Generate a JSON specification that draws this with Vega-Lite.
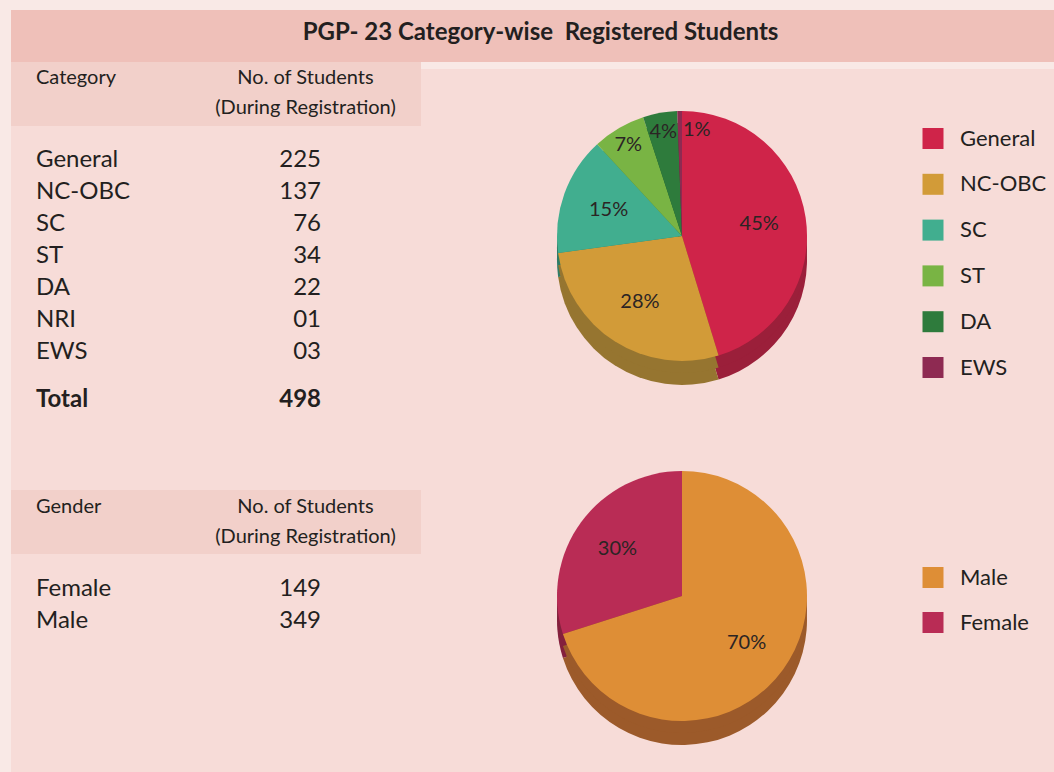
{
  "$schema": "https://vega.github.io/schema/vega-lite/v6.json",
  "background": "#f9e9e6",
  "padding": {"left": 11, "top": 10, "right": 0, "bottom": 0},
  "config": {
    "view": {"stroke": null},
    "concat": {"spacing": 0},
    "font": "Lato",
    "text": {"font": "Lato", "color": "#231f20"}
  },
  "datasets": {
    "category": [
      {"category": "General", "students": 225, "share": "45%"},
      {"category": "NC-OBC", "students": 137, "share": "28%"},
      {"category": "SC", "students": 76, "share": "15%"},
      {"category": "ST", "students": 34, "share": "7%"},
      {"category": "DA", "students": 22, "share": "4%"},
      {"category": "NRI", "students": 1, "share": ""},
      {"category": "EWS", "students": 3, "share": "1%"},
      {"category": "Total", "students": 498, "share": ""}
    ],
    "gender": [
      {"gender": "Female", "students": 149, "share": "30%"},
      {"gender": "Male", "students": 349, "share": "70%"}
    ]
  },
  "spacing": 0,
  "resolve": {"scale": {"color": "independent", "fill": "independent"}},
  "vconcat": [
    {
      "width": 1043,
      "height": 52,
      "view": {"fill": "#efc0b9", "stroke": null},
      "data": {"values": [{"title": "PGP- 23 Category-wise\u00a0 Registered Students"}]},
      "mark": {"type": "text", "fontSize": 24, "fontWeight": "bold", "dx": 8, "dy": -3, "color": "#231f20"},
      "encoding": {"text": {"field": "title", "type": "nominal"}}
    },
    {
      "spacing": 0,
      "resolve": {"scale": {"color": "independent", "fill": "independent"}},
      "hconcat": [
        {
          "spacing": 0,
          "bounds": "flush",
          "vconcat": [
            {
              "width": 410,
              "height": 64,
              "view": {"fill": "#f2d0ca", "stroke": null},
              "data": {"values": [{"col1": "Category", "col2": "No. of Students\n(During Registration)"}]},
              "layer": [
                {
                  "mark": {"type": "text", "align": "left", "fontSize": 20, "dy": -16.5},
                  "encoding": {
                    "x": {"datum": "Category", "type": "nominal", "scale": {"type": "point", "domain": ["Category", "No. of Students"], "padding": 0.2193, "align": 0.2}, "axis": null},
                    "text": {"field": "col1", "type": "nominal"}
                  }
                },
                {
                  "mark": {"type": "text", "align": "center", "fontSize": 20, "lineBreak": "\n", "lineHeight": 30, "dx": -15.5, "dy": -16.5},
                  "encoding": {
                    "x": {"datum": "No. of Students", "type": "nominal", "scale": {"type": "point", "domain": ["Category", "No. of Students"], "padding": 0.2193, "align": 0.2}, "axis": null},
                    "text": {"field": "col2", "type": "nominal"}
                  }
                }
              ]
            },
            {
              "width": 410,
              "height": 288,
              "view": {"fill": "#f7dcd8", "stroke": null},
              "data": {"name": "category"},
              "encoding": {
                "y": {"field": "category", "type": "nominal", "scale": {"type": "point", "domain": ["General", "NC-OBC", "SC", "ST", "DA", "NRI", "EWS", "Total"], "padding": 1}, "axis": null}
              },
              "layer": [
                {
                  "transform": [{"filter": "datum.category !== 'Total'"}],
                  "mark": {"type": "text", "align": "left", "fontSize": 24, "dy": 2},
                  "encoding": {
                    "x": {"datum": "Category", "type": "nominal", "scale": {"type": "point", "domain": ["Category", "No. of Students"], "padding": 0.2193, "align": 0.2}, "axis": null},
                    "text": {"field": "category", "type": "nominal"}
                  }
                },
                {
                  "transform": [{"filter": "datum.category !== 'Total'"}],
                  "mark": {"type": "text", "align": "right", "fontSize": 24, "dy": 2},
                  "encoding": {
                    "x": {"datum": "No. of Students", "type": "nominal", "scale": {"type": "point", "domain": ["Category", "No. of Students"], "padding": 0.2193, "align": 0.2}, "axis": null},
                    "text": {"field": "students", "type": "quantitative", "format": "02d"}
                  }
                },
                {
                  "transform": [{"filter": "datum.category === 'Total'"}],
                  "mark": {"type": "text", "align": "left", "fontSize": 24, "fontWeight": "bold", "dy": 18},
                  "encoding": {
                    "x": {"datum": "Category", "type": "nominal", "scale": {"type": "point", "domain": ["Category", "No. of Students"], "padding": 0.2193, "align": 0.2}, "axis": null},
                    "text": {"field": "category", "type": "nominal"}
                  }
                },
                {
                  "transform": [{"filter": "datum.category === 'Total'"}],
                  "mark": {"type": "text", "align": "right", "fontSize": 24, "fontWeight": "bold", "dy": 18},
                  "encoding": {
                    "x": {"datum": "No. of Students", "type": "nominal", "scale": {"type": "point", "domain": ["Category", "No. of Students"], "padding": 0.2193, "align": 0.2}, "axis": null},
                    "text": {"field": "students", "type": "quantitative", "format": "d"}
                  }
                }
              ]
            },
            {
              "width": 410,
              "height": 76,
              "view": {"fill": "#f7dcd8", "stroke": null},
              "data": {"values": []},
              "mark": "point"
            },
            {
              "width": 410,
              "height": 64,
              "view": {"fill": "#f2d0ca", "stroke": null},
              "data": {"values": [{"col1": "Gender", "col2": "No. of  Students\n(During Registration)"}]},
              "layer": [
                {
                  "mark": {"type": "text", "align": "left", "fontSize": 20, "dy": -15.3},
                  "encoding": {
                    "x": {"datum": "Gender", "type": "nominal", "scale": {"type": "point", "domain": ["Gender", "No. of Students"], "padding": 0.2193, "align": 0.2}, "axis": null},
                    "text": {"field": "col1", "type": "nominal"}
                  }
                },
                {
                  "mark": {"type": "text", "align": "center", "fontSize": 20, "lineBreak": "\n", "lineHeight": 30, "dx": -15.5, "dy": -15.3},
                  "encoding": {
                    "x": {"datum": "No. of Students", "type": "nominal", "scale": {"type": "point", "domain": ["Gender", "No. of Students"], "padding": 0.2193, "align": 0.2}, "axis": null},
                    "text": {"field": "col2", "type": "nominal"}
                  }
                }
              ]
            },
            {
              "width": 410,
              "height": 96,
              "view": {"fill": "#f7dcd8", "stroke": null},
              "data": {"name": "gender"},
              "encoding": {
                "y": {"field": "gender", "type": "nominal", "scale": {"type": "point", "domain": ["Female", "Male"], "padding": 1}, "axis": null}
              },
              "layer": [
                {
                  "mark": {"type": "text", "align": "left", "fontSize": 24, "dy": 3},
                  "encoding": {
                    "x": {"datum": "Gender", "type": "nominal", "scale": {"type": "point", "domain": ["Gender", "No. of Students"], "padding": 0.2193, "align": 0.2}, "axis": null},
                    "text": {"field": "gender", "type": "nominal"}
                  }
                },
                {
                  "mark": {"type": "text", "align": "right", "fontSize": 24, "dy": 3},
                  "encoding": {
                    "x": {"datum": "No. of Students", "type": "nominal", "scale": {"type": "point", "domain": ["Gender", "No. of Students"], "padding": 0.2193, "align": 0.2}, "axis": null},
                    "text": {"field": "students", "type": "quantitative", "format": "d"}
                  }
                }
              ]
            },
            {
              "width": 410,
              "height": 122,
              "view": {"fill": "#f7dcd8", "stroke": null},
              "data": {"values": []},
              "mark": "point"
            }
          ]
        },
        {
          "spacing": 0,
          "bounds": "flush",
          "resolve": {"scale": {"color": "independent", "fill": "independent"}},
          "vconcat": [
            {
              "width": 633,
              "height": 7,
              "data": {"values": []},
              "mark": "point"
            },
            {
              "width": 633,
              "height": 421,
              "view": {"fill": "#f7dcd8", "stroke": null},
              "data": {"name": "category"},
              "transform": [{"filter": "datum.category !== 'NRI' && datum.category !== 'Total'"}],
              "encoding": {
                "theta": {"field": "students", "type": "quantitative", "stack": true},
                "order": {"field": "students", "type": "quantitative", "sort": "descending"}
              },
              "layer": [
                {
                  "mark": {"type": "arc", "x": 261, "y": 191, "outerRadius": 125},
                  "encoding": {
                    "fill": {
                      "condition": [
                        {"test": "datum.category === 'General'", "value": "#9b1f3a"},
                        {"test": "datum.category === 'NC-OBC'", "value": "#967530"},
                        {"test": "datum.category === 'SC'", "value": "#2e7c66"},
                        {"test": "datum.category === 'ST'", "value": "#568030"},
                        {"test": "datum.category === 'DA'", "value": "#20572a"}
                      ],
                      "value": "#651e3a"
                    }
                  }
                },
                {
                  "mark": {"type": "arc", "x": 261, "y": 179, "outerRadius": 125},
                  "encoding": {
                    "fill": {
                      "condition": [
                        {"test": "datum.category === 'General'", "value": "#9b1f3a"},
                        {"test": "datum.category === 'NC-OBC'", "value": "#967530"},
                        {"test": "datum.category === 'SC'", "value": "#2e7c66"},
                        {"test": "datum.category === 'ST'", "value": "#568030"},
                        {"test": "datum.category === 'DA'", "value": "#20572a"}
                      ],
                      "value": "#651e3a"
                    }
                  }
                },
                {
                  "mark": {"type": "arc", "x": 261, "y": 167, "outerRadius": 125},
                  "encoding": {
                    "color": {
                      "field": "category", "type": "nominal",
                      "scale": {"domain": ["General", "NC-OBC", "SC", "ST", "DA", "EWS"], "range": ["#cf2449", "#d29b38", "#41ae8f", "#79b444", "#2e7b3c", "#8e2a52"]},
                      "legend": {"orient": "none", "legendX": 501, "legendY": 58.5, "title": null, "symbolType": "square", "symbolSize": 441, "symbolStrokeWidth": 0, "labelFontSize": 22, "labelFont": "Lato", "labelColor": "#231f20", "labelOffset": 16, "rowPadding": 23.8, "padding": 0}
                    }
                  }
                },
                {
                  "mark": {"type": "text", "x": 261, "y": 167, "radius": 78, "fontSize": 20, "color": "#2b2424"},
                  "encoding": {"text": {"condition": {"test": "datum.students >= 50", "field": "share", "type": "nominal"}, "value": ""}}
                },
                {
                  "mark": {"type": "text", "x": 261, "y": 167, "radius": 106, "fontSize": 20, "color": "#2b2424"},
                  "encoding": {"text": {"condition": {"test": "datum.category === 'ST' || datum.category === 'DA'", "field": "share", "type": "nominal"}, "value": ""}}
                },
                {
                  "mark": {"type": "text", "x": 261, "y": 167, "radius": 106, "fontSize": 20, "align": "left", "dx": 3, "color": "#2b2424"},
                  "encoding": {"text": {"condition": {"test": "datum.category === 'EWS'", "field": "share", "type": "nominal"}, "value": ""}}
                }
              ]
            },
            {
              "width": 633,
              "height": 282,
              "view": {"fill": "#f7dcd8", "stroke": null},
              "data": {"name": "gender"},
              "encoding": {
                "theta": {"field": "students", "type": "quantitative", "stack": true},
                "order": {"field": "students", "type": "quantitative", "sort": "descending"}
              },
              "layer": [
                {
                  "mark": {"type": "arc", "x": 261, "y": 130, "outerRadius": 125},
                  "encoding": {
                    "fill": {"condition": {"test": "datum.gender === 'Male'", "value": "#9c5a2a"}, "value": "#84203d"}
                  }
                },
                {
                  "mark": {"type": "arc", "x": 261, "y": 118, "outerRadius": 125},
                  "encoding": {
                    "fill": {"condition": {"test": "datum.gender === 'Male'", "value": "#9c5a2a"}, "value": "#84203d"}
                  }
                },
                {
                  "mark": {"type": "arc", "x": 261, "y": 106, "outerRadius": 125},
                  "encoding": {
                    "color": {
                      "field": "gender", "type": "nominal",
                      "scale": {"domain": ["Male", "Female"], "range": ["#de8e36", "#b92c55"]},
                      "legend": {"orient": "none", "legendX": 501, "legendY": 76.5, "title": null, "symbolType": "square", "symbolSize": 441, "symbolStrokeWidth": 0, "labelFontSize": 22, "labelFont": "Lato", "labelColor": "#231f20", "labelOffset": 16, "rowPadding": 23, "padding": 0}
                    }
                  }
                },
                {
                  "mark": {"type": "text", "x": 261, "y": 106, "radius": 80, "fontSize": 20, "color": "#2b2424"},
                  "encoding": {"text": {"field": "share", "type": "nominal"}}
                }
              ]
            }
          ]
        }
      ]
    }
  ]
}
